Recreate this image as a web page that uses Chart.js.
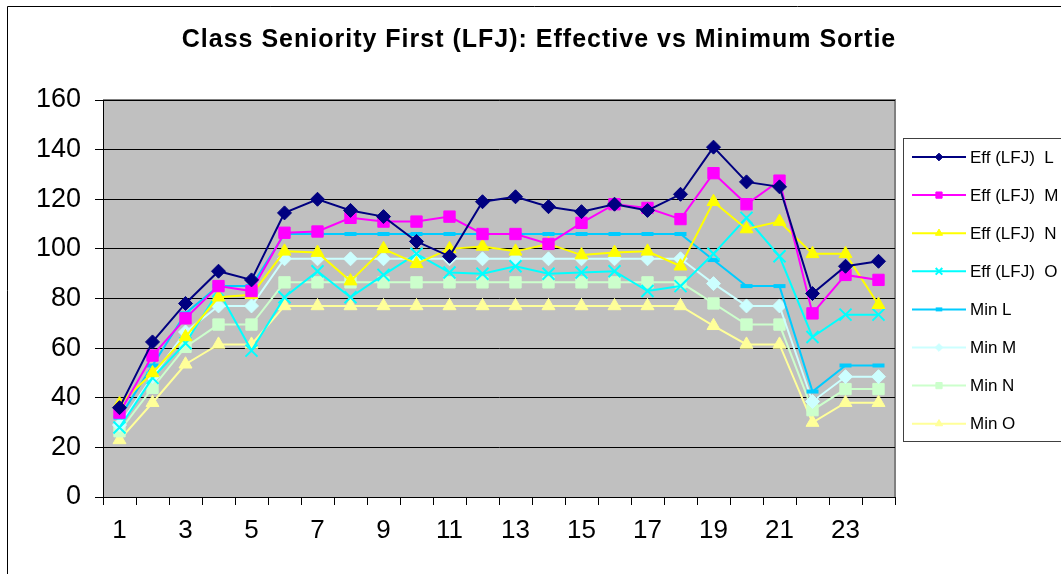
<!DOCTYPE html>
<html>
<head>
<meta charset="utf-8">
<script src="https://cdn.jsdelivr.net/npm/chart.js@4/dist/chart.umd.min.js"></script>
<style>
  html, body { margin: 0; padding: 0; background: #fff; }
  #wrap { width: 1061px; height: 574px; position: relative; }
</style>
</head>
<body>
<div id="wrap"><canvas id="seniorityChart"></canvas></div>
<script>
// categories (hours / slots 1..24)
const categories = Array.from({ length: 24 }, (_, i) => String(i + 1));

// effective sortie counts
const effL = [36, 62.5, 78, 91, 87.5, 114.5, 120, 115.5, 113, 103, 97, 119, 121, 117, 115, 118, 115.5, 122, 141, 127, 125, 82, 93, 95];
const effM = [34, 57, 72, 85, 83, 106.5, 107, 112.5, 111, 111, 113, 106, 106, 102, 110.5, 118, 116.5, 112, 130.5, 118, 127.5, 74, 89.5, 87.5];
const effN = [37.5, 50, 64.5, 80.5, 81.5, 99, 98.5, 87, 100, 94, 100, 101, 99, 102, 97.5, 98.5, 99, 93, 119, 108, 111, 98, 98, 77.5];
const effO = [28, 48, 62, 83, 59, 80.5, 91, 80.5, 89.5, 98, 90.5, 90, 93, 90, 90.5, 91, 83, 85, 98, 112.5, 97, 64.5, 73.5, 73.5];

// minimum sortie counts
const minL = [32, 53, 74, 85, 85, 106, 106, 106, 106, 106, 106, 106, 106, 106, 106, 106, 106, 106, 95.5, 85, 85, 42.5, 53, 53];
const minM = [29, 48.5, 66.5, 77, 77, 96, 96, 96, 96, 96, 96, 96, 96, 96, 96, 96, 96, 96, 86, 77, 77, 38.5, 48.5, 48.5];
const minN = [26.5, 44, 60.5, 69.5, 69.5, 86.5, 86.5, 86.5, 86.5, 86.5, 86.5, 86.5, 86.5, 86.5, 86.5, 86.5, 86.5, 86.5, 78, 69.5, 69.5, 35, 43.5, 43.5];
const minO = [23, 38, 53.5, 61.5, 61.5, 77, 77, 77, 77, 77, 77, 77, 77, 77, 77, 77, 77, 77, 69, 61.5, 61.5, 30, 38, 38];

const seriesLabels = ["Eff (LFJ)  L", "Eff (LFJ)  M", "Eff (LFJ)  N", "Eff (LFJ)  O", "Min L", "Min M", "Min N", "Min O"];
const yTicks = [0, 20, 40, 60, 80, 100, 120, 140, 160];

const FONT = "'Liberation Sans', Arial, sans-serif";

function series(label, data, color, style, radius, extra) {
    return Object.assign({
        label,
        data,
        borderColor: color,
        backgroundColor: color,
        pointBackgroundColor: color,
        pointBorderColor: color,
        pointStyle: style,
        pointRadius: radius,
        pointHoverRadius: radius,
        pointBorderWidth: 1,
        borderWidth: 2,
        tension: 0,
        fill: false
    }, extra || {});
}

const datasets = [
    series(seriesLabels[0], effL, "#000080", "rectRot", 7),
    series(seriesLabels[1], effM, "#FF00FF", "rect", 8),
    series(seriesLabels[2], effN, "#FFFF00", "triangle", 7.5),
    series(seriesLabels[3], effO, "#00FFFF", "crossRot", 8.5, { pointBorderWidth: 2 }),
    series(seriesLabels[4], minL, "#00CCFF", "line", 6, { pointBorderWidth: 4 }),
    series(seriesLabels[5], minM, "#CCFFFF", "rectRot", 7),
    series(seriesLabels[6], minN, "#CCFFCC", "rect", 8),
    series(seriesLabels[7], minO, "#FFFF99", "triangle", 7.5)
];

// plot background, frame, title and the legend box
const decor = {
    id: "decor",
    beforeDraw(chart) {
        const { ctx, chartArea: a } = chart;
        ctx.save();
        ctx.fillStyle = "#fff";
        ctx.fillRect(0, 0, chart.width, chart.height);
        // outer chart border (runs off the right and bottom)
        ctx.strokeStyle = "#000";
        ctx.lineWidth = 1;
        ctx.beginPath();
        ctx.moveTo(7.5, chart.height);
        ctx.lineTo(7.5, 6.5);
        ctx.lineTo(chart.width, 6.5);
        ctx.stroke();
        ctx.fillStyle = "#C0C0C0";
        ctx.fillRect(a.left, a.top, a.right - a.left, a.bottom - a.top);
        ctx.strokeStyle = "#808080";
        ctx.lineWidth = 2;
        ctx.beginPath();
        ctx.moveTo(a.left, a.top);
        ctx.lineTo(a.right, a.top);
        ctx.lineTo(a.right, a.bottom);
        ctx.stroke();
        // title
        ctx.fillStyle = "#000";
        ctx.font = "bold 25px " + FONT;
        ctx.letterSpacing = "1px";
        ctx.textAlign = "center";
        ctx.textBaseline = "middle";
        ctx.fillText("Class Seniority First (LFJ): Effective vs Minimum Sortie", 539, 40);
        ctx.restore();
    },
    afterDraw(chart) {
        const { ctx } = chart;
        const boxX = 903, boxY = 138, boxH = 303;
        ctx.save();
        ctx.fillStyle = "#fff";
        ctx.fillRect(boxX, boxY, chart.width - boxX, boxH);
        ctx.strokeStyle = "#404040";
        ctx.lineWidth = 1;
        ctx.strokeRect(boxX + 0.5, boxY + 0.5, chart.width, boxH);
        ctx.font = "17px " + FONT;
        ctx.textAlign = "left";
        ctx.textBaseline = "middle";
        chart.data.datasets.forEach((ds, i) => {
            const y = 157 + i * 38.1;
            ctx.strokeStyle = ds.borderColor;
            ctx.lineWidth = 2;
            ctx.beginPath();
            ctx.moveTo(912, y);
            ctx.lineTo(966, y);
            ctx.stroke();
            ctx.fillStyle = ds.pointBackgroundColor;
            ctx.strokeStyle = ds.pointBorderColor;
            ctx.lineWidth = ds.pointBorderWidth;
            Chart.helpers.drawPoint(ctx, {
                pointStyle: ds.pointStyle,
                radius: ds.pointRadius * 0.55,
                rotation: 0,
                borderWidth: ds.pointBorderWidth
            }, 939, y);
            ctx.fillStyle = "#000";
            ctx.fillText(ds.label, 970, y + 1);
        });
        ctx.restore();
    }
};

new Chart(document.getElementById("seniorityChart"), {
    type: "line",
    data: { labels: categories, datasets },
    options: {
        responsive: true,
        maintainAspectRatio: false,
        animation: false,
        layout: { padding: { top: 100, right: 166, left: 0, bottom: 0 } },
        plugins: {
            legend: { display: false },
            title: { display: false },
            tooltip: { enabled: false }
        },
        scales: {
            x: {
                offset: true,
                afterFit(scale) { scale.height = 77; },
                grid: {
                    offset: true,
                    drawOnChartArea: false,
                    drawTicks: true,
                    tickLength: 8,
                    color: "#000"
                },
                border: { color: "#000", width: 1 },
                ticks: {
                    autoSkip: false,
                    maxRotation: 0,
                    padding: 10,
                    color: "#000",
                    font: { family: FONT, size: 26 },
                    callback: (v, i) => (i % 2 === 0 ? categories[i] : "")
                }
            },
            y: {
                min: 0,
                max: 160,
                afterFit(scale) { scale.width = 103; },
                afterBuildTicks(scale) { scale.ticks = yTicks.map(v => ({ value: v })); },
                grid: {
                    color: "#000",
                    drawTicks: true,
                    tickLength: 8
                },
                border: { color: "#000", width: 1 },
                ticks: {
                    padding: 14,
                    color: "#000",
                    font: { family: FONT, size: 27 }
                }
            }
        }
    },
    plugins: [decor]
});
</script>
</body>
</html>
